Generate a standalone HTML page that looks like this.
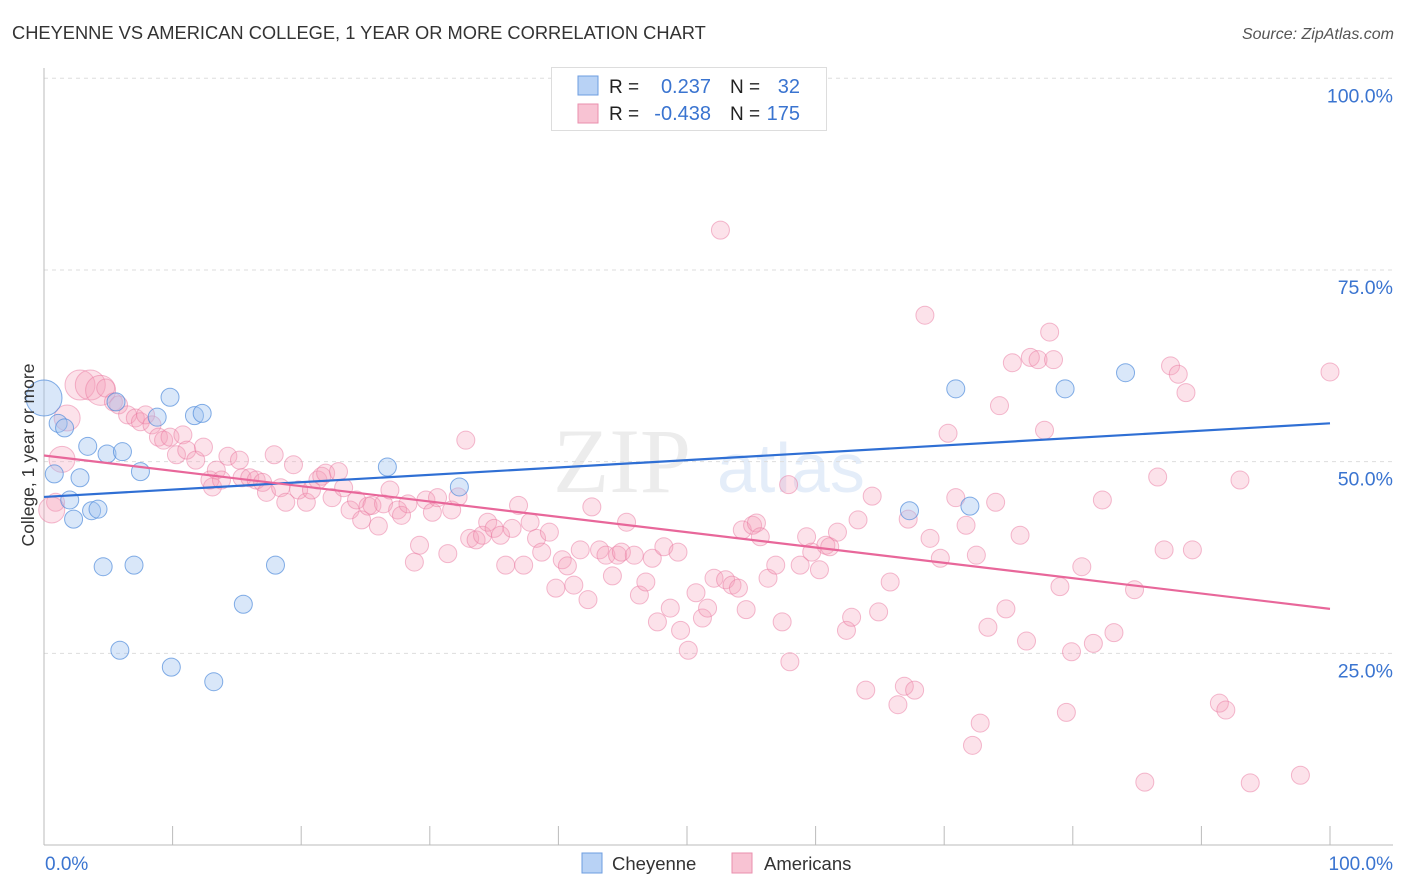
<!DOCTYPE html>
<html><head><meta charset="utf-8"><style>
body{margin:0;background:#fff;font-family:"Liberation Sans",sans-serif;}
svg{display:block}
</style></head><body>
<svg id="c" width="1406" height="892" xmlns="http://www.w3.org/2000/svg">
<text x="12" y="39" font-size="18.3" fill="#333">CHEYENNE VS AMERICAN COLLEGE, 1 YEAR OR MORE CORRELATION CHART</text>
<text x="1394" y="39" font-size="16" fill="#555" font-style="italic" text-anchor="end">Source: ZipAtlas.com</text>
<g opacity="0.18">
<text x="553" y="492" font-size="92" font-family="Liberation Serif,serif" fill="#999">ZIP</text>
<text x="717" y="492" font-size="70" fill="#6c9ee0">atlas</text>
</g>
<g id="grid"></g>
<g id="axes"></g>
<g id="pts"></g>
<g id="trend"></g>
<text x="34" y="455" font-size="17.5" fill="#333" text-anchor="middle" transform="rotate(-90 34 455)">College, 1 year or more</text>
<g>
<rect x="551.5" y="67.5" width="275" height="63" fill="#fff" stroke="#ddd"/>
<rect x="578" y="76" width="20" height="19" fill="#b8d2f5" stroke="#6d9de0"/>
<rect x="578" y="104" width="20" height="19" fill="#f8c3d3" stroke="#ea8fae"/>
<text x="609" y="93" font-size="19" fill="#222">R =</text><text x="711" y="93" font-size="20" fill="#3a74d0" text-anchor="end">0.237</text>
<text x="730" y="93" font-size="19" fill="#222">N =</text><text x="800" y="93" font-size="20" fill="#3a74d0" text-anchor="end">32</text>
<text x="609" y="120" font-size="19" fill="#222">R =</text><text x="711" y="120" font-size="20" fill="#3a74d0" text-anchor="end">-0.438</text>
<text x="730" y="120" font-size="19" fill="#222">N =</text><text x="800" y="120" font-size="20" fill="#3a74d0" text-anchor="end">175</text>
</g>
<g>
<rect x="582" y="853" width="20" height="20" fill="#b8d2f5" stroke="#6d9de0"/>
<text x="612" y="870" font-size="18.5" fill="#333">Cheyenne</text>
<rect x="732" y="853" width="20" height="20" fill="#f8c3d3" stroke="#ea8fae"/>
<text x="764" y="870" font-size="18.5" fill="#333">Americans</text>
</g>
</svg>
<script>
const blueX=[0,1.1,1.6,0.8,2.0,2.3,2.8,3.4,3.7,4.2,4.9,4.6,5.6,6.1,7.0,7.5,5.9,8.8,9.8,9.9,11.7,12.3,13.2,15.5,18.0,26.7,32.3,67.3,70.9,72.0,79.4,84.1];
const blueY=[58.3,55.0,54.4,48.4,45.0,42.5,47.9,52.0,43.6,43.8,51.0,36.3,57.8,51.3,36.5,48.7,25.4,55.8,58.4,23.2,56.0,56.3,21.3,31.4,36.5,49.3,46.7,43.6,59.5,44.2,59.5,61.6];
const pinkX=[0.9,0.6,1.4,1.8,2.8,3.6,4.4,4.8,5.4,5.8,6.5,7.1,7.5,7.9,8.4,8.9,9.3,9.8,10.3,10.8,11.1,11.8,12.4,13.1,12.9,13.4,13.8,14.3,15.2,15.4,16.0,16.5,17.0,17.3,17.9,18.4,18.8,19.4,19.8,20.4,20.8,21.3,21.6,21.9,22.4,22.9,23.3,23.8,24.3,24.7,25.2,25.5,26.0,26.4,26.9,27.5,27.8,28.3,28.8,29.2,29.7,30.2,30.6,31.4,31.7,32.2,32.8,33.1,33.6,34.1,34.5,35.0,35.5,35.9,36.4,36.9,37.3,37.8,38.3,38.7,39.3,39.8,40.3,40.7,41.2,41.7,42.3,42.6,43.2,43.7,44.2,44.6,44.9,45.3,45.9,46.3,46.8,47.3,47.7,48.2,48.7,49.3,49.5,50.1,50.7,51.2,51.6,52.1,52.6,53.0,53.5,54.0,54.3,54.6,55.1,55.4,55.7,56.3,56.9,57.4,58.0,57.9,58.8,59.3,59.7,60.3,60.8,61.1,61.7,62.4,62.8,63.3,63.9,64.4,64.9,65.8,66.4,66.9,67.2,67.7,68.5,68.9,69.7,70.3,70.9,71.7,72.2,72.5,72.8,73.4,74.0,74.3,74.8,75.3,75.9,76.4,76.7,77.3,77.8,78.2,78.5,79.0,79.5,79.9,80.7,81.6,82.3,83.2,84.8,85.6,86.6,87.1,87.6,88.2,88.8,89.3,91.4,91.9,93.0,93.8,97.7,100];
const pinkY=[44.7,43.7,50.3,55.7,60.0,60.0,59.3,59.6,57.8,57.4,56.1,55.7,55.2,56.1,54.8,53.2,52.8,53.2,50.9,53.5,51.5,50.2,51.9,46.7,47.6,48.9,47.6,50.7,50.2,47.9,47.9,47.6,47.3,46.0,50.9,46.6,44.7,49.6,46.3,44.7,46.3,47.6,48.1,48.5,45.3,48.7,46.6,43.7,45.0,42.4,44.2,44.3,41.6,44.5,46.3,43.7,43.0,44.5,36.9,39.1,45.0,43.4,45.3,38.0,43.7,45.4,52.8,40.0,39.8,40.4,42.1,41.3,40.4,36.5,41.3,44.3,36.5,42.1,40.0,38.2,40.8,33.5,37.2,36.4,33.9,38.5,32.0,44.1,38.5,37.8,35.1,37.8,38.2,42.1,37.8,32.6,34.3,37.4,29.1,38.9,30.9,38.2,28.0,25.4,32.9,29.6,30.9,34.8,80.2,34.6,33.9,33.5,41.1,30.7,41.7,42.0,40.2,34.8,36.5,29.1,23.9,47.0,36.5,40.2,38.2,35.9,39.1,38.9,40.8,28.0,29.7,42.4,20.2,45.5,30.4,34.3,18.3,20.7,42.5,20.2,69.1,40.0,37.4,53.7,45.3,41.7,13.0,37.8,15.9,28.4,44.7,57.3,30.8,62.9,40.4,26.6,63.6,63.3,54.1,66.9,63.3,33.7,17.3,25.2,36.3,26.3,45.0,27.7,33.3,8.2,48.0,38.5,62.5,61.4,59.0,38.5,18.5,17.6,47.6,8.1,9.1,61.7];
const pinkBig=[1,2,3,4,5,6];
const blueBig=[0];
const blueTrend=[45.4,55.0];
const pinkTrend=[50.8,30.8];
const yTicks=[25,50,75,100];
const yTickLabels=["25.0%","50.0%","75.0%","100.0%"];
const xTicks=[0,10,20,30,40,50,60,70,80,90,100];
const NS="http://www.w3.org/2000/svg";
const X=v=>44+v*12.86, Y=v=>845-v*7.667;
function mk(p,t,a){const e=document.createElementNS(NS,t);for(const k in a)e.setAttribute(k,a[k]);document.getElementById(p).appendChild(e);return e;}
yTicks.forEach((t,i)=>{
 const g=mk('grid','line',{x1:44,x2:1393,y1:Y(t),y2:Y(t),stroke:'#ddd','stroke-dasharray':'4,4'});
 
 
 const l=mk('axes','text',{x:1393,y:Y(t)+24,'font-size':19.5,fill:'#3a74d0','text-anchor':'end'});
 l.textContent=yTickLabels[i];
 
 
});
let ax=mk('axes','line',{x1:44,x2:44,y1:68,y2:845,stroke:'#bbb'});


ax=mk('axes','line',{x1:44,x2:1393,y1:845,y2:845,stroke:'#bbb'});


xTicks.forEach(t=>{const e=mk('axes','line',{x1:X(t),x2:X(t),y1:826,y2:845,stroke:'#bbb'});
 
 });
let xl=mk('axes','text',{x:45,y:870,'font-size':19,fill:'#3a74d0'});xl.textContent="0.0%";


xl=mk('axes','text',{x:1393,y:870,'font-size':19,fill:'#3a74d0','text-anchor':'end'});xl.textContent="100.0%";


pinkX.forEach((v,i)=>{const r=pinkBig.includes(i)?(i>=4?15:13):9;
 const c=mk('pts','circle',{cx:X(v),cy:Y(pinkY[i]),r:r,fill:'rgba(244,160,187,0.3)',stroke:'rgba(234,120,160,0.5)','stroke-width':1});
 
 });
blueX.forEach((v,i)=>{const r=blueBig.includes(i)?18:9;
 const c=mk('pts','circle',{cx:X(v),cy:Y(blueY[i]),r:r,fill:'rgba(160,196,240,0.4)',stroke:'rgba(80,140,220,0.7)','stroke-width':1});
 
 });
let t=mk('trend','line',{x1:X(0),x2:X(100),y1:Y(blueTrend[0]),y2:Y(blueTrend[1]),stroke:'#2f6fd4','stroke-width':2.2});


t=mk('trend','line',{x1:X(0),x2:X(100),y1:Y(pinkTrend[0]),y2:Y(pinkTrend[1]),stroke:'#e8679a','stroke-width':2.2});


</script>
</body></html>
